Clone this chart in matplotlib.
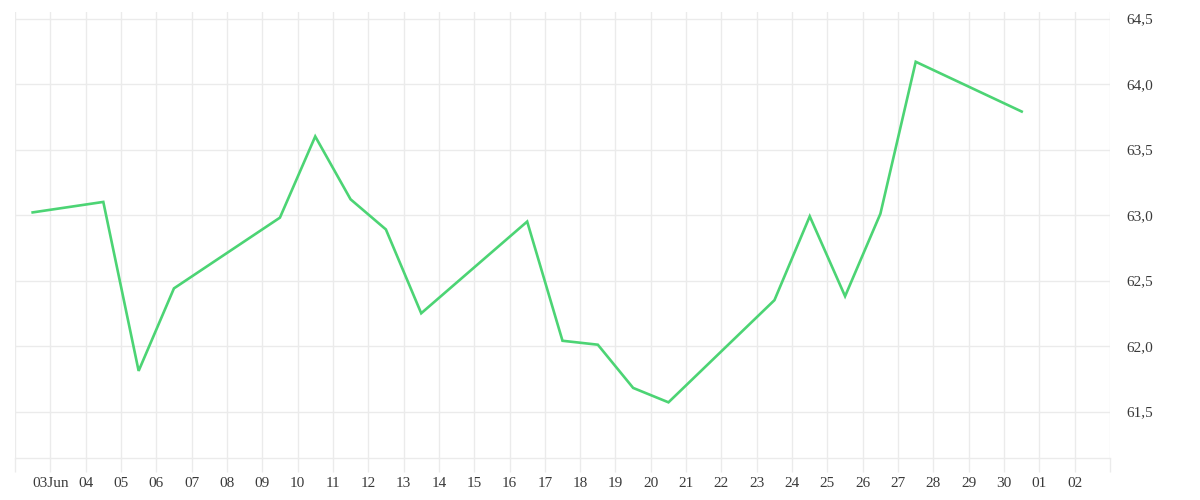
import matplotlib
matplotlib.use("Agg")
import matplotlib.pyplot as plt
import pandas as pd

# daily values (trading days)
dates = ["2024-06-03", "2024-06-04", "2024-06-05", "2024-06-06", "2024-06-07",
         "2024-06-10", "2024-06-11", "2024-06-12", "2024-06-13", "2024-06-14",
         "2024-06-17", "2024-06-18", "2024-06-19", "2024-06-20", "2024-06-21",
         "2024-06-24", "2024-06-25", "2024-06-26", "2024-06-27", "2024-06-28",
         "2024-07-01"]
values = [63.02, 63.06, 63.10, 61.81, 62.44,
          62.98, 63.60, 63.12, 62.89, 62.25,
          62.95, 62.04, 62.01, 61.68, 61.57,
          62.35, 62.99, 62.38, 63.01, 64.17,
          63.79]
y_ticks = [61.5, 62.0, 62.5, 63.0, 63.5, 64.0, 64.5]
x_start, x_end = "2024-06-02", "2024-07-03"

grid_color = "#ebebeb"
text_color = "#3a3a3a"
plt.rcParams['font.family'] = ['Liberation Serif', 'DejaVu Serif']

fig = plt.figure(figsize=(12, 5), dpi=100)
ax = fig.add_axes([0.0125, 0.084, 0.9125, 0.892])

# points sit half a day before the date tick
x = pd.to_datetime(dates) - pd.Timedelta(hours=12)
ax.plot(x, values, color="#4cd474", linewidth=1.9, solid_joinstyle="miter")

days = pd.date_range(x_start, x_end, freq="D")
labels = []
for d in days:
    if d == days[0] or d == days[-1]:
        labels.append("")
    elif d == days[1]:
        labels.append(d.strftime("%d") + "Jun")
    else:
        labels.append(d.strftime("%d"))
ax.set_xticks(days)
ax.set_xticklabels(labels)
ax.set_xlim(days[0], days[-1])

ax.set_ylim(61.145, 64.55)
ax.set_yticks(y_ticks)
ax.set_yticklabels([f"{v:.1f}".replace(".", ",") for v in y_ticks])
ax.yaxis.tick_right()

ax.grid(True, color=grid_color, linewidth=1)
ax.set_axisbelow(True)
for side in ["top", "left", "right"]:
    ax.spines[side].set_visible(False)
ax.spines["bottom"].set_color(grid_color)
ax.spines["bottom"].set_linewidth(1)

ax.tick_params(axis="x", length=10, width=1, color=grid_color, labelcolor=text_color,
               labelsize=11, pad=4)
ax.tick_params(axis="y", length=0, labelcolor=text_color, labelsize=11, pad=12)

fig.savefig("out.png", dpi=100)
